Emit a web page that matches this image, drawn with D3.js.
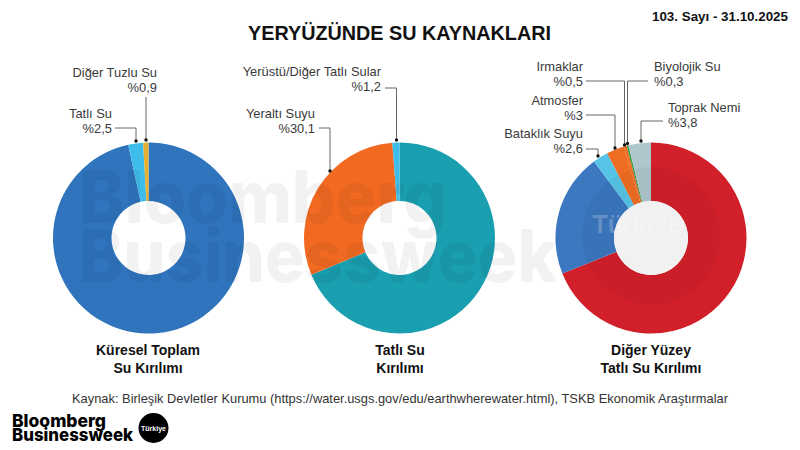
<!DOCTYPE html>
<html><head><meta charset="utf-8">
<script src="https://cdn.jsdelivr.net/npm/d3@7"></script>
<style>
html,body{margin:0;padding:0;background:#fff}
svg{display:block}
text{font-family:"Liberation Sans",Arial,sans-serif}
</style></head><body>
<svg id="c" width="800" height="450"></svg>
<script>
const titleText = "YERYÜZÜNDE SU KAYNAKLARI";
const issueText = "103. Sayı - 31.10.2025";
const sourceText = "Kaynak: Birleşik Devletler Kurumu (https://water.usgs.gov/edu/earthwherewater.html), TSKB Ekonomik Araştırmalar";

const cats1 = ["Tuzlu Su","Tatlı Su","Diğer Tuzlu Su"];
const vals1 = [96.5,2.5,0.9];
const cols1 = ["#2f74bd","#3fbdea","#e6b02e"];
const cats2 = ["Buzullar","Yeraltı Suyu","Yerüstü/Diğer Tatlı Sular"];
const vals2 = [68.7,30.1,1.2];
const cols2 = ["#1a9fb0","#f26a21","#3fbdea"];
const cats3 = ["Yer Buzu","Göller","Bataklık Suyu","Atmosfer","Irmaklar","Biyolojik Su","Toprak Nemi"];
const vals3 = [69,20.9,2.6,3,0.5,0.3,3.8];
const cols3 = ["#d2202a","#3b78bf","#55c4e6","#ef6c23","#ef6c23","#2e9e47","#aec6cc"];

const capt1 = ["Küresel Toplam","Su Kırılımı"];
const capt2 = ["Tatlı Su","Kırılımı"];
const capt3 = ["Diğer Yüzey","Tatlı Su Kırılımı"];

const svg = d3.select("#c");
const outerR = 95.5, innerR = 37;
const centerY = 238;

function donut(cx, vals, cols){
  const g = svg.append("g").attr("transform",`translate(${cx},${centerY})`);
  const pie = d3.pie().sort(null).value(d=>d);
  const arc = d3.arc().innerRadius(innerR).outerRadius(outerR);
  g.selectAll("path").data(pie(vals)).join("path").attr("d",arc).attr("fill",(d,i)=>cols[i]);
}

donut(148.5, vals1, cols1);
donut(399.5, vals2, cols2);
donut(651, vals3, cols3);

// faint watermark
const wm = svg.append("g").attr("fill","#000").attr("fill-opacity",0.05).attr("font-weight",800).attr("font-size",73);
wm.append("text").style("font-family","Inter").attr("x",79).attr("y",223).attr("textLength",368).attr("lengthAdjust","spacingAndGlyphs").text("Bloomberg");
wm.append("text").style("font-family","Inter").attr("x",79).attr("y",282).attr("textLength",478).attr("lengthAdjust","spacingAndGlyphs").text("Businessweek");

svg.append("circle").attr("cx",651).attr("cy",236).attr("r",69).attr("fill","#000").attr("fill-opacity",0.035);
svg.append("circle").attr("cx",651).attr("cy",238).attr("r",innerR).attr("fill","#f1f1f1");
svg.append("text").attr("x",637).attr("y",233).attr("text-anchor","middle").attr("font-size",25).attr("font-weight",700)
  .attr("fill","#fff").attr("fill-opacity",0.22).text("Türkiye");

// labels
function label(lines, x, y, anchor){
  const t = svg.append("text").attr("text-anchor",anchor).attr("font-size",12.9).attr("fill","#3a3a3a");
  lines.forEach((l,i)=>t.append("tspan").attr("x",x).attr("y",y+i*15).text(l));
}
function leader(pts){
  svg.append("path").attr("d",d3.line()(pts)).attr("fill","none").attr("stroke","#555").attr("stroke-width",0.9);
  const e = pts[pts.length-1];
  svg.append("circle").attr("cx",e[0]).attr("cy",e[1]).attr("r",1.7).attr("fill","#111");
}

label(["Diğer Tuzlu Su","%0,9"],157,77,"end");
leader([[146,97],[146,140]]);
label(["Tatlı Su","%2,5"],112,118,"end");
leader([[115,128],[136,128],[136,141]]);

label(["Yerüstü/Diğer Tatlı Sular","%1,2"],381,76,"end");
leader([[385,88],[396.5,88],[396.5,140]]);
label(["Yeraltı Suyu","%30,1"],315,118,"end");
leader([[319,128],[330,128],[330,171]]);

label(["Irmaklar","%0,5"],583,71,"end");
leader([[586,81],[624.5,81],[624.5,145]]);
label(["Biyolojik Su","%0,3"],654,71,"start");
leader([[648,81],[627.5,81],[627.5,143.5]]);
label(["Atmosfer","%3"],583,105,"end");
leader([[586,115],[615,115],[615,148]]);
label(["Bataklık Suyu","%2,6"],583,138,"end");
leader([[586,149],[598,149],[598,156]]);
label(["Toprak Nemi","%3,8"],668,112,"start");
leader([[663,121],[641,121],[641,141]]);

// captions
function caption(lines,x){
  const t = svg.append("text").attr("text-anchor","middle").attr("font-size",14).attr("font-weight",700).attr("fill","#111");
  lines.forEach((l,i)=>t.append("tspan").attr("x",x).attr("y",355+i*17.5).text(l));
}
caption(capt1,148);
caption(capt2,400);
caption(capt3,651);

svg.append("text").attr("x",248).attr("y",40).attr("font-size",20).attr("font-weight",700).attr("fill","#111")
  .attr("textLength",303).attr("lengthAdjust","spacingAndGlyphs").text(titleText);
svg.append("text").attr("x",652).attr("y",21).attr("font-size",13).attr("font-weight",700).attr("fill","#111")
  .attr("textLength",136).attr("lengthAdjust","spacingAndGlyphs").text(issueText);
svg.append("text").attr("x",72).attr("y",403).attr("font-size",12.8).attr("fill","#333")
  .attr("textLength",656).attr("lengthAdjust","spacingAndGlyphs").text(sourceText);

// logo
const logo = svg.append("g").attr("font-weight",800).attr("fill","#000").attr("font-size",18);
logo.append("text").style("font-family","Inter").attr("x",12).attr("y",427).attr("textLength",94).attr("lengthAdjust","spacingAndGlyphs").text("Bloomberg");
logo.append("text").style("font-family","Inter").attr("x",12).attr("y",441).attr("textLength",121).attr("lengthAdjust","spacingAndGlyphs").text("Businessweek");
svg.append("circle").attr("cx",153.5).attr("cy",428).attr("r",15).attr("fill","#000");
svg.append("text").attr("x",153.5).attr("y",431).attr("text-anchor","middle").attr("font-size",7).attr("font-weight",700).attr("fill","#fff").text("Türkiye");
</script>
</body></html>
